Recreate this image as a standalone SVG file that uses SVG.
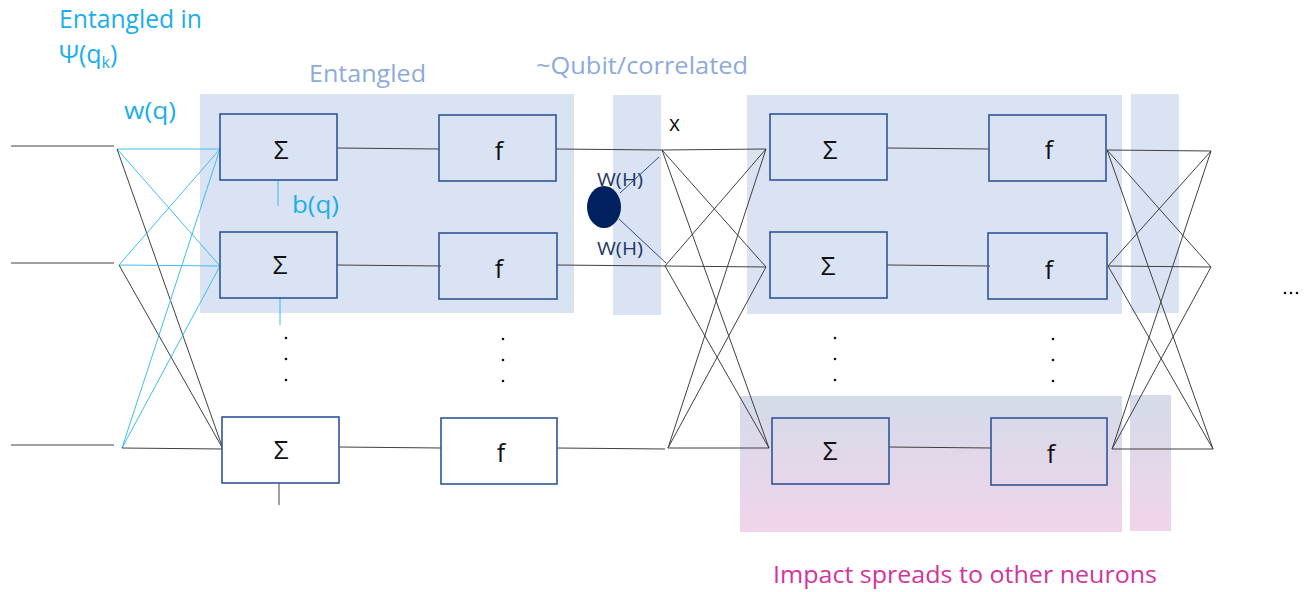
<svg xmlns="http://www.w3.org/2000/svg" width="1308" height="592" viewBox="0 0 1308 592">
<defs>
<linearGradient id="pink" x1="0" y1="0" x2="0" y2="1">
<stop offset="0" stop-color="#d4dbe9"/>
<stop offset="1" stop-color="#f1d4ea"/>
</linearGradient>
<style>
.band{fill:#dae3f3}
.box{stroke:#2f5597;stroke-width:1.6}
.w{fill:#ffffff}
.t{fill:none}
.ln{stroke:#404040;stroke-width:1;fill:none}
.bl{stroke:#3dbdf0;stroke-width:1;fill:none}
.sym{font-family:"Open Sans",sans-serif;font-size:26px;fill:#111;text-anchor:middle}
.fn{font-family:"Open Sans",sans-serif;font-size:25px;fill:#111;text-anchor:middle}
.cy{font-family:"Open Sans",sans-serif;fill:#1aaeea}
.pv{font-family:"Open Sans",sans-serif;fill:#8eaadb}
.nv{font-family:"Open Sans",sans-serif;fill:#1f3864;font-size:18px}
.dot{fill:#111}
</style>
</defs>
<rect width="1308" height="592" fill="#ffffff"/>

<g id="bands">
<rect class="band" x="200" y="94" width="374" height="219"/>
<rect class="band" x="613" y="95" width="48" height="220"/>
<rect class="band" x="747" y="95" width="375" height="219"/>
<rect class="band" x="1131" y="94" width="48" height="219"/>
<rect x="740" y="396" width="382" height="136" fill="url(#pink)"/>
<rect x="1130" y="395" width="41" height="136" fill="url(#pink)"/>
</g>

<g id="labels">
<text class="cy" x="59" y="28" font-size="25" textLength="143" lengthAdjust="spacingAndGlyphs">Entangled in</text>
<text class="cy" x="59" y="63" font-size="25">Ψ(q<tspan font-size="16" dy="5">k</tspan><tspan dy="-5">)</tspan></text>
<text class="cy" x="124" y="119" font-size="23" textLength="52" lengthAdjust="spacingAndGlyphs">w(q)</text>
<text class="pv" x="309" y="82" font-size="24" textLength="117" lengthAdjust="spacingAndGlyphs">Entangled</text>
<text class="pv" x="536" y="74" font-size="24" textLength="212" lengthAdjust="spacingAndGlyphs">~Qubit/correlated</text>
<text class="cy" x="292" y="213" font-size="23" textLength="47" lengthAdjust="spacingAndGlyphs">b(q)</text>
<text x="669" y="131" font-family="'Open Sans',sans-serif" font-size="21" fill="#111">x</text>
<text class="nv" x="597" y="186" textLength="46" lengthAdjust="spacingAndGlyphs">W(H)</text>
<text class="nv" x="597" y="255" textLength="46" lengthAdjust="spacingAndGlyphs">W(H)</text>
<text x="773" y="583" font-family="'Open Sans',sans-serif" font-size="24" fill="#d2359e" textLength="384" lengthAdjust="spacingAndGlyphs">Impact spreads to other neurons</text>
</g>

<g id="connectors">
<line class="ln" x1="11" y1="146" x2="114" y2="146"/>
<line class="ln" x1="11" y1="263" x2="114" y2="263"/>
<line class="ln" x1="11" y1="445" x2="114" y2="445"/>
<line class="bl" x1="117" y1="149" x2="220" y2="149"/>
<line class="bl" x1="117" y1="149" x2="220" y2="266"/>
<line class="ln" x1="117" y1="149" x2="223" y2="449"/>
<line class="bl" x1="119" y1="265" x2="220" y2="149"/>
<line class="bl" x1="119" y1="265" x2="220" y2="266"/>
<line class="ln" x1="119" y1="265" x2="223" y2="449"/>
<line class="bl" x1="122" y1="448" x2="220" y2="149"/>
<line class="bl" x1="122" y1="448" x2="220" y2="266"/>
<line class="ln" x1="122" y1="448" x2="223" y2="449"/>
<line class="bl" x1="278" y1="180" x2="278" y2="206"/>
<line class="bl" x1="280" y1="298" x2="280" y2="325"/>
<line class="ln" x1="279" y1="483" x2="279" y2="505"/>
<line class="ln" x1="337" y1="148" x2="439" y2="149"/>
<line class="ln" x1="337" y1="265" x2="441" y2="266"/>
<line class="ln" x1="339" y1="447" x2="441" y2="448"/>
<line class="ln" x1="887" y1="148" x2="989" y2="149"/>
<line class="ln" x1="887" y1="265" x2="990" y2="266"/>
<line class="ln" x1="889" y1="447" x2="991" y2="448"/>
<line class="ln" x1="556" y1="149" x2="662" y2="150"/>
<line class="ln" x1="557" y1="265" x2="665" y2="266"/>
<line class="ln" x1="557" y1="448" x2="665" y2="449"/>
<line stroke="#2f4b8a" stroke-width="1" x1="620" y1="193" x2="659" y2="157"/>
<line stroke="#2f4b8a" stroke-width="1" x1="619" y1="219" x2="666" y2="263"/>
<line class="ln" x1="662" y1="150" x2="766" y2="149"/>
<line class="ln" x1="662" y1="150" x2="766" y2="267"/>
<line class="ln" x1="662" y1="150" x2="769" y2="448"/>
<line class="ln" x1="665" y1="266" x2="766" y2="149"/>
<line class="ln" x1="665" y1="266" x2="766" y2="267"/>
<line class="ln" x1="665" y1="266" x2="769" y2="448"/>
<line class="ln" x1="668" y1="448" x2="766" y2="149"/>
<line class="ln" x1="668" y1="448" x2="766" y2="267"/>
<line class="ln" x1="668" y1="448" x2="769" y2="448"/>
<line class="ln" x1="1107" y1="150" x2="1211" y2="151"/>
<line class="ln" x1="1107" y1="150" x2="1211" y2="267"/>
<line class="ln" x1="1107" y1="150" x2="1213" y2="449"/>
<line class="ln" x1="1108" y1="266" x2="1211" y2="151"/>
<line class="ln" x1="1108" y1="266" x2="1211" y2="267"/>
<line class="ln" x1="1108" y1="266" x2="1213" y2="449"/>
<line class="ln" x1="1112" y1="449" x2="1211" y2="151"/>
<line class="ln" x1="1112" y1="449" x2="1211" y2="267"/>
<line class="ln" x1="1112" y1="449" x2="1213" y2="449"/>
</g>

<g id="sum1"><rect class="box t" x="220" y="114" width="117" height="66"/><text class="sym" x="281" y="159">Σ</text></g>
<g id="sum2"><rect class="box t" x="220" y="232" width="117" height="66"/><text class="sym" x="280" y="274">Σ</text></g>
<g id="sum3"><rect class="box w" x="222" y="417" width="117" height="66"/><text class="sym" x="281" y="459">Σ</text></g>
<g id="f1"><rect class="box t" x="439" y="115" width="117" height="66"/><text class="fn" x="499" y="160">f</text></g>
<g id="f2"><rect class="box t" x="439" y="233" width="118" height="66"/><text class="fn" x="499" y="278">f</text></g>
<g id="f3"><rect class="box w" x="441" y="418" width="116" height="66"/><text class="fn" x="501" y="462">f</text></g>

<g id="sum4"><rect class="box t" x="770" y="114" width="117" height="66"/><text class="sym" x="830" y="159">Σ</text></g>
<g id="sum5"><rect class="box t" x="770" y="232" width="117" height="66"/><text class="sym" x="828" y="275">Σ</text></g>
<g id="sum6"><rect class="box t" x="772" y="418" width="117" height="66"/><text class="sym" x="830" y="460">Σ</text></g>
<g id="f4"><rect class="box t" x="989" y="115" width="117" height="66"/><text class="fn" x="1049" y="159">f</text></g>
<g id="f5"><rect class="box t" x="988" y="233" width="119" height="66"/><text class="fn" x="1049" y="279">f</text></g>
<g id="f6"><rect class="box t" x="991" y="418" width="116" height="67"/><text class="fn" x="1051" y="463">f</text></g>

<g id="qubit"><ellipse cx="604" cy="207" rx="17" ry="21" fill="#002060"/></g>

<g id="dots">
<circle class="dot" cx="286" cy="338" r="1.3"/><circle class="dot" cx="286" cy="359" r="1.3"/><circle class="dot" cx="286" cy="380" r="1.3"/>
<circle class="dot" cx="503" cy="339" r="1.3"/><circle class="dot" cx="503" cy="360" r="1.3"/><circle class="dot" cx="503" cy="381" r="1.3"/>
<circle class="dot" cx="835" cy="338" r="1.3"/><circle class="dot" cx="835" cy="359" r="1.3"/><circle class="dot" cx="835" cy="380" r="1.3"/>
<circle class="dot" cx="1053" cy="339" r="1.3"/><circle class="dot" cx="1053" cy="360" r="1.3"/><circle class="dot" cx="1053" cy="381" r="1.3"/>
<circle class="dot" cx="1285" cy="293" r="1.3"/><circle class="dot" cx="1291" cy="293" r="1.3"/><circle class="dot" cx="1297" cy="293" r="1.3"/>
</g>
</svg>
